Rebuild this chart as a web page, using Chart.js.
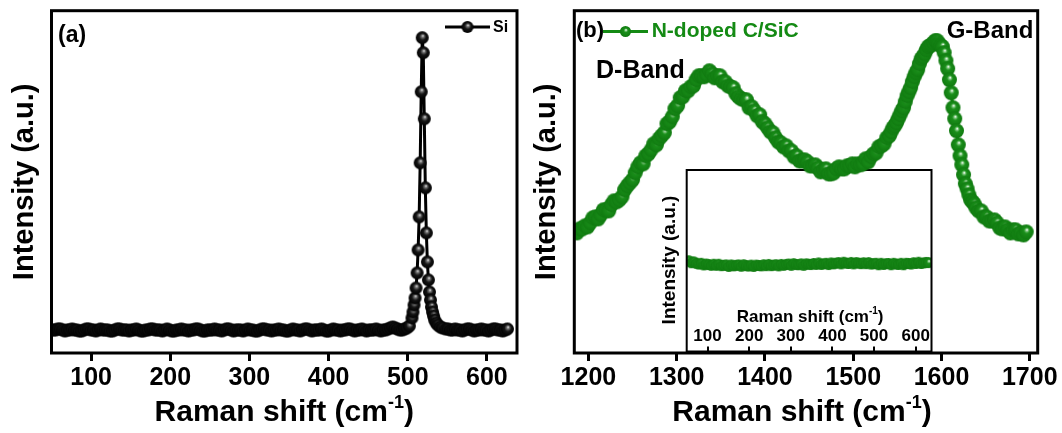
<!DOCTYPE html>
<html>
<head>
<meta charset="utf-8">
<script src="https://cdn.jsdelivr.net/npm/chart.js@4.4.1/dist/chart.umd.min.js"></script>
<style>
  html, body { margin: 0; padding: 0; background: #fff; }
  #wrap { position: relative; width: 1062px; height: 433px; overflow: hidden; }
  canvas { position: absolute; }
</style>
</head>
<body>
<div id="wrap">
  <canvas id="inset" width="300" height="210" style="left:640px;top:150px"></canvas>
  <canvas id="ca" width="531" height="433" style="left:0;top:0"></canvas>
  <canvas id="cb" width="531" height="433" style="left:531px;top:0"></canvas>
</div>
<script>
// ---------------- DATA ----------------
// Panel (a): Si Raman spectrum (Raman shift in cm-1, intensity in arbitrary units)
const ramanA = [
  52,55,58,61,64,67,70,73,76,79,
  82,85,88,91,94,97,100,103,106,109,
  112,115,118,121,124,127,130,133,136,139,
  142,145,148,151,154,157,160,163,166,169,
  172,175,178,181,184,187,190,193,196,199,
  202,205,208,211,214,217,220,223,226,229,
  232,235,238,241,244,247,250,253,256,259,
  262,265,268,271,274,277,280,283,286,289,
  292,295,298,301,304,307,310,313,316,319,
  322,325,328,331,334,337,340,343,346,349,
  352,355,358,361,364,367,370,373,376,379,
  382,385,388,391,394,397,400,403,406,409,
  412,415,418,421,424,427,430,433,436,439,
  442,445,448,451,454,457,460,463,466,469,
  472,475,478,481,484,487,490,493,496,499,
  502,
  505.3,506.6,507.9,509.2,510.5,511.8,513.1,514.4,515.7,517.0,
  518.3,519.6,520.9,522.2,523.5,524.8,526.1,527.4,528.7,530.0,
  531.3,532.6,534,
  536,538,541,544,548,551,554,557,560,563,
  566,569,572,575,578,581,584,587,590,593,
  596,599,602,605,608,611,614,617,620,623,
  626
];
const intensityA = [
  23,23,24,24,23,22,23,23,24,23,
  23,22,22,23,24,24,23,23,22,23,
  24,23,23,23,22,22,23,24,24,23,
  23,23,22,23,23,24,23,22,22,23,
  23,24,24,23,23,23,22,23,24,23,
  22,22,23,23,24,23,23,22,23,23,
  24,24,23,22,22,23,23,23,24,23,
  23,22,23,24,24,23,22,23,23,23,
  22,23,24,23,23,22,22,23,24,24,
  23,23,22,23,23,24,23,23,22,22,
  23,24,23,23,22,23,24,24,23,22,
  23,23,23,24,23,22,22,23,24,23,
  23,22,23,23,24,24,23,22,23,23,
  24,23,22,23,23,23,24,23,22,23,
  23,24,25,26,25,24,23,23,24,25,
  27,
  35,41,48,55,65,80,103,136,190,261,
  315,300,234,165,120,91,73,61,53,46,
  41,37,33,
  30,28,26,25,24,24,23,23,24,23,
  23,22,23,24,24,23,22,23,23,24,
  23,23,22,23,24,24,23,23,22,23,
  24
];
const ticksA = [100, 200, 300, 400, 500, 600];

// Panel (b): N-doped C/SiC Raman spectrum
const ramanB = [
  1187,1190,1193,1196,1199,1202,1205,1208,1211,1214,
  1217,1220,1223,1226,1229,1232,1235,1238,1241,1244,
  1247,1250,1253,1256,1259,1262,1265,1268,1271,1274,
  1277,1280,1283,1286,1289,1292,1295,1298,1301,1304,
  1307,1310,1313,1316,1319,1322,1325,1328,1331,1334,
  1337,1340,1343,1346,1349,1352,1355,1358,1361,1364,
  1367,1370,1373,1376,1379,1382,1385,1388,1391,1394,
  1397,1400,1403,1406,1409,1412,1415,1418,1421,1424,
  1427,1430,1433,1436,1439,1442,1445,1448,1451,1454,
  1457,1460,1463,1466,1469,1472,1475,1478,1481,1484,
  1487,1490,1493,1496,1499,1502,1505,1508,1511,1514,
  1517,1520,1523,1526,1529,1532,1535,1538,1541,
  1543,1545,1547,1549,1551,1553,1555,1557,1559,1561,
  1563,1565,1567,1569,1571,1573,1575,1577,1579,1581,
  1583,1585,1587,1589,1591,1593,1595,1597,1599,1601,
  1603,1605,1607,1609,1611,1613,1615,1617,1619,1621,
  1623,1625,1627,1629,1631,1633,1635,1637,1639,
  1642,1645,1648,1651,1654,1657,1660,1663,1666,1669,
  1672,1675,1678,1681,1684,1687,1690,1693,1696
];
const intensityB = [
  120,124,124,127,126,130,135,136,134,138,
  143,143,142,148,152,151,153,156,163,167,
  170,173,180,186,190,189,197,199,203,209,
  208,214,217,220,229,231,236,244,247,255,
  256,262,262,266,267,273,277,277,276,278,
  282,279,275,277,277,271,271,267,266,265,
  259,256,254,253,253,245,246,242,237,238,
  231,229,225,221,220,215,211,210,206,207,
  202,202,196,197,192,192,193,191,187,187,
  188,185,181,183,184,179,179,180,184,186,
  184,184,187,187,189,186,189,188,189,194,
  191,196,199,200,206,207,209,215,217,
  221,225,227,230,234,238,242,245,251,257,
  261,265,271,276,280,283,289,294,296,299,
  303,306,307,308,310,312,312,309,307,306,
  300,292,284,273,260,245,234,222,208,197,
  188,178,169,164,158,153,151,149,145,
  142,142,136,136,132,132,133,130,125,124,
  126,123,120,123,123,119,120,118,121
];
const ticksB = [1200, 1300, 1400, 1500, 1600, 1700];

// Inset: N-doped C/SiC, low-wavenumber region
const ramanInset = [
  55,61,67,73,79,85,91,97,103,109,
  115,121,127,133,139,145,151,157,163,169,
  175,181,187,193,199,205,211,217,223,229,
  235,241,247,253,259,265,271,277,283,289,
  295,301,307,313,319,325,331,337,343,349,
  355,361,367,373,379,385,391,397,403,409,
  415,421,427,433,439,445,451,457,463,469,
  475,481,487,493,499,505,511,517,523,529,
  535,541,547,553,559,565,571,577,583,589,
  595,601,607,613,619,625,631
];
const intensityInset = [
  50.0,48.9,49.4,48.6,48.2,48.6,47.7,48.2,47.9,47.5,
  48.1,47.5,48.1,47.3,47.5,47.7,46.9,47.7,47.2,47.5,
  47.7,47.0,47.8,47.3,47.1,47.6,46.9,47.6,47.4,47.2,
  47.8,47.3,48.0,47.3,47.6,47.8,47.2,48.0,47.5,48.0,
  48.2,47.5,48.4,47.9,47.8,48.3,47.5,48.3,48.1,47.9,
  48.5,48.0,48.8,48.0,48.3,48.6,47.9,48.8,48.3,48.7,
  49.0,48.3,49.2,48.7,48.5,49.1,48.3,49.0,48.7,48.4,
  48.9,48.4,49.0,48.2,48.4,48.6,47.8,48.6,48.0,48.4,
  48.5,47.8,48.6,48.2,48.0,48.6,47.8,48.6,48.5,48.2,
  48.9,48.5,49.2,48.5,48.8,49.1,49.0
];
const ticksInset = [100, 200, 300, 400, 500, 600];

// ---------------- STYLE ----------------
const FONT = '"Liberation Sans", Arial, Helvetica, sans-serif';
const GREEN = '#148a14';

function makeSphere(r, stops) {
  const s = Math.ceil(2 * r + 2);
  const c = document.createElement('canvas');
  c.width = s; c.height = s;
  const g = c.getContext('2d');
  const cx = s / 2, cy = s / 2;
  const grad = g.createRadialGradient(cx + r * 0.1, cy - r * 0.3, r * 0.05, cx, cy, r);
  stops.forEach(st => grad.addColorStop(st[0], st[1]));
  g.fillStyle = grad;
  g.beginPath(); g.arc(cx, cy, r, 0, Math.PI * 2); g.fill();
  return c;
}
const blackStops = [[0, '#d0d0d0'], [0.2, '#6a6a6a'], [0.5, '#141414'], [1, '#000000']];
const greenStops = [[0, '#ffffff'], [0.13, '#80c880'], [0.36, '#1a8e1a'], [1, '#107a10']];
const sphereBlack = makeSphere(6.5, blackStops);
const sphereBlackSmall = makeSphere(6, blackStops);
const sphereGreen = makeSphere(7.5, greenStops);
const sphereGreenLeg = makeSphere(5.5, greenStops);
const sphereGreenSmall = makeSphere(5.5, greenStops);

function toXY(xs, ys) { return xs.map((x, i) => ({ x: x, y: ys[i] })); }

function drawXTitle(ctx, cx, baseY, size) {
  const main = 'Raman shift (cm', sup = '-1', end = ')';
  const f1 = 'bold ' + size + 'px ' + FONT;
  const f2 = 'bold ' + Math.round(size * 0.6) + 'px ' + FONT;
  ctx.save();
  ctx.font = f1;
  const w1 = ctx.measureText(main).width, w3 = ctx.measureText(end).width;
  ctx.font = f2;
  const w2 = ctx.measureText(sup).width;
  let x = cx - (w1 + w2 + w3) / 2;
  ctx.fillStyle = '#000'; ctx.textAlign = 'left'; ctx.textBaseline = 'alphabetic';
  ctx.font = f1; ctx.fillText(main, x, baseY); x += w1;
  ctx.font = f2; ctx.fillText(sup, x, baseY - size * 0.45); x += w2;
  ctx.font = f1; ctx.fillText(end, x, baseY);
  ctx.restore();
}
function drawYTitle(ctx, cx, cy, size, text) {
  ctx.save();
  ctx.translate(cx, cy); ctx.rotate(-Math.PI / 2);
  ctx.font = 'bold ' + size + 'px ' + FONT;
  ctx.fillStyle = '#000'; ctx.textAlign = 'center'; ctx.textBaseline = 'middle';
  ctx.fillText(text, 0, 0);
  ctx.restore();
}
function drawBox(ctx, area, lw) {
  ctx.save();
  ctx.strokeStyle = '#000'; ctx.lineWidth = lw;
  ctx.strokeRect(area.left, area.top, area.right - area.left, area.bottom - area.top);
  ctx.restore();
}
function drawText(ctx, text, x, y, size, color, align) {
  ctx.save();
  ctx.font = 'bold ' + size + 'px ' + FONT;
  ctx.fillStyle = color; ctx.textAlign = align || 'left'; ctx.textBaseline = 'middle';
  ctx.fillText(text, x, y);
  ctx.restore();
}
function drawLegendMark(ctx, x1, x2, y, color, sphere) {
  ctx.save();
  ctx.strokeStyle = color; ctx.lineWidth = 3;
  ctx.beginPath(); ctx.moveTo(x1, y); ctx.lineTo(x2, y); ctx.stroke();
  ctx.drawImage(sphere, (x1 + x2) / 2 - sphere.width / 2, y - sphere.height / 2);
  ctx.restore();
}

function xScale(min, max, ticks, height, tickLen, tickW, fontSize, pad, showLabels) {
  return {
    type: 'linear', min: min, max: max,
    afterBuildTicks: (ax) => { ax.ticks = ticks.map(v => ({ value: v })); },
    afterFit: (s) => { s.height = height; },
    border: { display: false },
    grid: { drawOnChartArea: false, drawTicks: true, tickLength: tickLen, tickWidth: tickW, lineWidth: tickW, color: '#000' },
    ticks: {
      display: showLabels,
      color: '#000', autoSkip: false, maxRotation: 0, minRotation: 0, padding: pad,
      font: { family: FONT, size: fontSize, weight: 'bold' },
      callback: (v) => String(v)
    }
  };
}

// ---------------- PANEL (a) ----------------
new Chart(document.getElementById('ca'), {
  type: 'line',
  data: {
    datasets: [{
      data: toXY(ramanA, intensityA),
      borderColor: '#000', borderWidth: 3, tension: 0,
      pointStyle: sphereBlack, pointRadius: 6.5
    }]
  },
  options: {
    responsive: false, animation: false, events: [],
    layout: { padding: { left: 51.5, top: 10.7, right: 14, bottom: 0 } },
    plugins: { legend: { display: false }, tooltip: { enabled: false } },
    scales: {
      x: xScale(50, 638, ticksA, 80, 8, 3, 25, 2, true),
      y: { display: false, min: 0, max: 342 }
    }
  },
  plugins: [{
    id: 'decorA',
    afterDraw(chart) {
      const ctx = chart.ctx, a = chart.chartArea;
      drawBox(ctx, a, 3);
      drawXTitle(ctx, (a.left + a.right) / 2, 421, 30);
      drawYTitle(ctx, 25, (a.top + a.bottom) / 2, 29, 'Intensity (a.u.)');
      drawText(ctx, '(a)', 58, 36, 23, '#000');
      drawLegendMark(ctx, 445, 490, 27, '#000', sphereBlackSmall);
      drawText(ctx, 'Si', 493, 28, 16, '#000');
    }
  }]
});

// ---------------- PANEL (b) ----------------
new Chart(document.getElementById('cb'), {
  type: 'line',
  data: {
    datasets: [{
      data: toXY(ramanB, intensityB),
      borderColor: GREEN, borderWidth: 3, tension: 0,
      pointStyle: sphereGreen, pointRadius: 7.5
    }]
  },
  options: {
    responsive: false, animation: false, events: [],
    layout: { padding: { left: 43.3, top: 10.7, right: 24.3, bottom: 0 } },
    plugins: { legend: { display: false }, tooltip: { enabled: false } },
    scales: {
      x: xScale(1184, 1709, ticksB, 80, 8, 3, 25, 2, true),
      y: { display: false, min: 0, max: 342 }
    }
  },
  plugins: [{
    id: 'decorB',
    afterDraw(chart) {
      const ctx = chart.ctx, a = chart.chartArea;
      drawBox(ctx, a, 3);
      drawXTitle(ctx, (a.left + a.right) / 2 - 4, 421, 30);
      drawYTitle(ctx, 16, (a.top + a.bottom) / 2, 29, 'Intensity (a.u.)');
      drawText(ctx, '(b)', 45, 31, 22, '#000');
      drawLegendMark(ctx, 72, 117, 31.5, GREEN, sphereGreenLeg);
      drawText(ctx, 'N-doped C/SiC', 120.7, 31, 21, GREEN);
      drawText(ctx, 'D-Band', 65, 71, 25, '#000');
      drawText(ctx, 'G-Band', 415.7, 31, 24, '#000');
    }
  }]
});

// ---------------- INSET ----------------
new Chart(document.getElementById('inset'), {
  type: 'line',
  data: {
    datasets: [{
      data: toXY(ramanInset, intensityInset),
      borderColor: GREEN, borderWidth: 3, tension: 0,
      pointStyle: sphereGreenSmall, pointRadius: 5.5
    }]
  },
  options: {
    responsive: false, animation: false, events: [],
    layout: { padding: { left: 46.7, top: 20, right: 6.7, bottom: 0 } },
    plugins: { legend: { display: false }, tooltip: { enabled: false } },
    scales: {
      x: xScale(50, 638, ticksInset, 7.3, -5, 2, 17, 0, false),
      y: { display: false, min: 0, max: 100 }
    }
  },
  plugins: [{
    id: 'decorInset',
    afterDraw(chart) {
      const ctx = chart.ctx, a = chart.chartArea, sx = chart.scales.x;
      drawBox(ctx, a, 2);
      ticksInset.forEach(v => drawText(ctx, String(v), sx.getPixelForValue(v), 186.5, 17, '#000', 'center'));
      drawXTitle(ctx, (a.left + a.right) / 2 + 1, 172, 17);
      drawYTitle(ctx, 30, 110, 19, 'Intensity (a.u.)');
    }
  }]
});
</script>
</body>
</html>
